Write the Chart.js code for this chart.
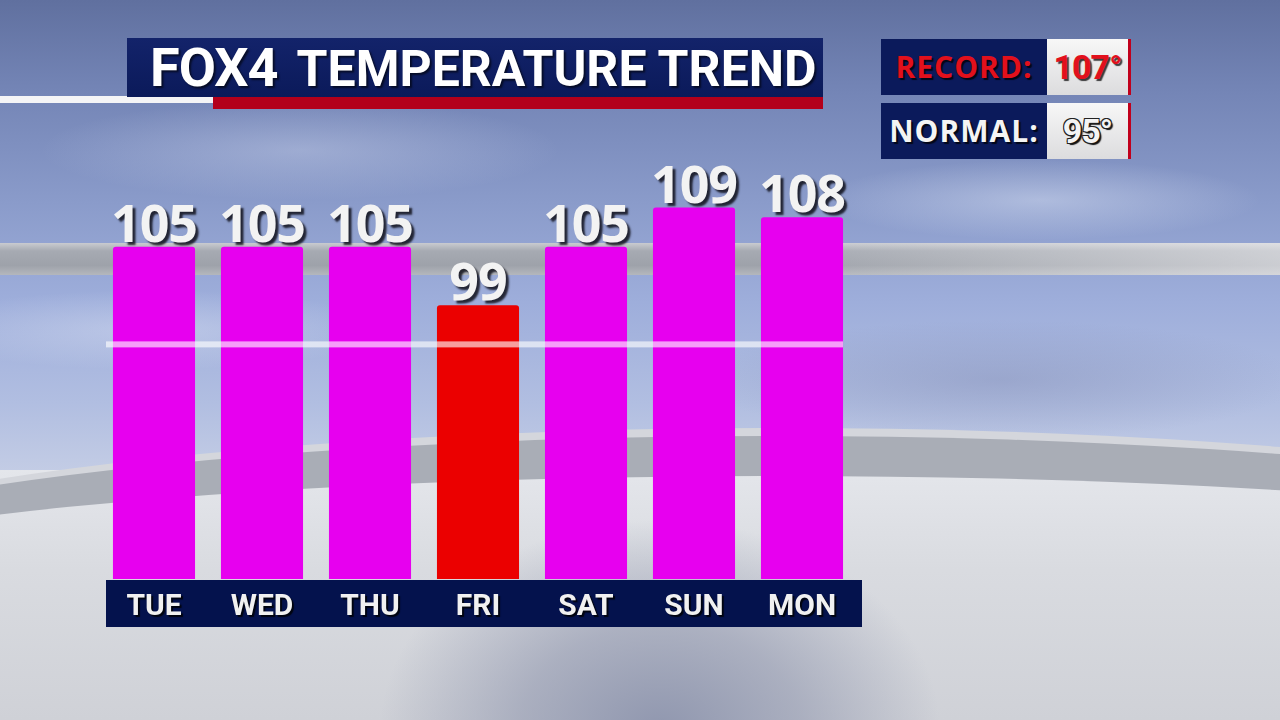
<!DOCTYPE html>
<html lang="en">
<head>
    <meta charset="UTF-8">
    <title>FOX4 Temperature Trend</title>
    <script src="https://cdn.jsdelivr.net/npm/chart.js"></script>
    <style>
        html, body {
            margin: 0;
            width: 1280px;
            height: 720px;
            overflow: hidden;
        }
        body {
            position: relative;
            background:
                radial-gradient(ellipse 220px 40px at 1040px 200px, rgba(220,228,245,0.45), rgba(220,228,245,0) 100%),
                radial-gradient(ellipse 260px 50px at 300px 150px, rgba(215,222,242,0.35), rgba(215,222,242,0) 100%),
                radial-gradient(ellipse 300px 60px at 1000px 380px, rgba(120,130,170,0.35), rgba(120,130,170,0) 100%),
                radial-gradient(ellipse 240px 40px at 150px 330px, rgba(225,230,245,0.4), rgba(225,230,245,0) 100%),
                linear-gradient(180deg, #60709f 0%, #7384b5 12%, #8a9bca 28%, #9eaedb 42%, #b1bee1 56%, #c4cde5 66%);
            font-family: Roboto, sans-serif;
        }
        .layer { position: absolute; }
        /* stadium ring + floor, decoration only */
        .ring-top {
            left: 0; top: 243px; width: 1280px; height: 32px;
            background:
                linear-gradient(90deg, rgba(255,255,255,0) 60%, rgba(240,240,242,0.55) 100%),
                linear-gradient(180deg, #c9cbd0 0%, #a6aab2 25%, #9ea2aa 70%, #b4b7bd 100%);
        }
        .floor {
            left: 0; top: 470px; width: 1280px; height: 250px;
            background:
                radial-gradient(ellipse 280px 210px at 660px 260px, #9097af 0%, rgba(150,156,178,0.65) 50%, rgba(200,203,212,0) 100%),
                linear-gradient(180deg, #e4e6eb 0%, #d9dbe0 40%, #cfd1d7 100%);
        }
        .ring-low {
            left: -340px; top: 432px; width: 2240px; height: 360px;
            border-radius: 50%;
            border-top: 44px solid #a9adb6;
            box-sizing: border-box;
        }
        .ring-low-hi {
            left: -340px; top: 428px; width: 2240px; height: 360px;
            border-radius: 50%;
            border-top: 8px solid #d4d6dc;
            box-sizing: border-box;
        }
        .axis-bar {
            left: 106px; top: 580px; width: 756px; height: 47px;
            background: #04124d;
        }
        .title-box {
            left: 127px; top: 38px; width: 696px; height: 59px;
            background: linear-gradient(180deg, #13236a 0%, #0b1a5a 100%);
        }
        .title-red {
            left: 213px; top: 97px; width: 610px; height: 12px;
            background: #b3001b;
        }
        .title-white {
            left: 0; top: 96px; width: 213px; height: 7px;
            background: #f4f4f6;
        }
        .title-text {
            left: 150px; top: 38px; height: 60px; line-height: 60px;
            color: #ffffff; font-weight: bold; font-size: 50px;
            white-space: nowrap;
            text-shadow: 2px 2px 2px rgba(0,0,0,0.6);
        }
        .title-text .logo { font-size: 54px; letter-spacing: -1px; margin-right: 19px; }
        .stat-label {
            left: 881px; width: 166px; height: 56px; line-height: 56px;
            background: #0b1a5b; text-align: center;
            font-family: 'Open Sans', sans-serif; font-weight: 700; font-size: 30px;
            letter-spacing: 1px; white-space: nowrap;
        }
        .stat-value {
            left: 1047px; width: 81px; height: 56px; line-height: 56px;
            background: linear-gradient(180deg, #f7f7f7 0%, #dcdcde 100%);
            border-right: 3px solid #c1001c;
            text-align: center; font-weight: bold; font-size: 34px;
            letter-spacing: -1px; white-space: nowrap;
        }
        .red-txt { color: #e2101c; text-shadow: 2px 2px 1px rgba(0,0,0,0.75); }
        .white-txt { color: #f4f4f4; text-shadow: 2px 2px 1px rgba(0,0,0,0.75); }
        .outlined { color: #f4f4f4; text-shadow: -1px -1px 0 #222, 1px -1px 0 #222, -1px 1px 0 #222, 2px 2px 1px #111; }
        canvas { position: absolute; left: 0; top: 0; z-index: 5; }
    </style>
</head>
<body>
    <div class="layer ring-top"></div>
    <div class="layer floor"></div>
    <div class="layer ring-low"></div>
    <div class="layer ring-low-hi"></div>
    <div class="layer axis-bar"></div>

    <div class="layer title-white"></div>
    <div class="layer title-box"></div>
    <div class="layer title-red"></div>
    <div class="layer title-text"><span class="logo">FOX4</span>TEMPERATURE TREND</div>

    <div class="layer stat-label red-txt" style="top:39px">RECORD:</div>
    <div class="layer stat-value red-txt" id="recordValue" style="top:39px"></div>
    <div class="layer stat-label white-txt" style="top:103px">NORMAL:</div>
    <div class="layer stat-value outlined" id="normalValue" style="top:103px"></div>

    <canvas id="trendChart" width="1280" height="720"></canvas>

    <script>
        // forecast highs
        const DAYS = ['TUE', 'WED', 'THU', 'FRI', 'SAT', 'SUN', 'MON'];
        const HIGHS = [105, 105, 105, 99, 105, 109, 108];
        const RECORD_HIGH = 107;
        const NORMAL_HIGH = 95;

        document.getElementById('recordValue').textContent = RECORD_HIGH + '°';
        document.getElementById('normalValue').textContent = NORMAL_HIGH + '°';

        // shadow under the day labels, switched off again before the bars
        const tickShadow = {
            id: 'tickShadow',
            beforeDraw(chart) {
                const ctx = chart.ctx;
                ctx.shadowColor = 'rgba(0,0,0,0.8)';
                ctx.shadowOffsetX = 2;
                ctx.shadowOffsetY = 2;
                ctx.shadowBlur = 1;
            },
            beforeDatasetsDraw(chart) {
                const ctx = chart.ctx;
                ctx.shadowColor = 'rgba(0,0,0,0)';
                ctx.shadowOffsetX = 0;
                ctx.shadowOffsetY = 0;
                ctx.shadowBlur = 0;
            }
        };

        // translucent normal-high line + numbers over the bars
        const overlays = {
            id: 'overlays',
            afterDatasetsDraw(chart) {
                const ctx = chart.ctx;
                const area = chart.chartArea;
                const y = chart.scales.y.getPixelForValue(NORMAL_HIGH);

                ctx.save();
                ctx.fillStyle = 'rgba(255,255,255,0.62)';
                ctx.fillRect(area.left + 6, y - 3, area.right - area.left - 19, 6);
                ctx.restore();

                const meta = chart.getDatasetMeta(0);
                ctx.save();
                ctx.font = "700 52px 'Open Sans', sans-serif";
                ctx.letterSpacing = '-1px';
                ctx.textAlign = 'center';
                ctx.textBaseline = 'alphabetic';
                ctx.fillStyle = '#f3f3f3';
                ctx.shadowColor = 'rgba(15,15,25,0.85)';
                ctx.shadowOffsetX = 3;
                ctx.shadowOffsetY = 3;
                ctx.shadowBlur = 2;
                meta.data.forEach((bar, i) => {
                    ctx.fillText(String(HIGHS[i]), bar.x, bar.y - 5);
                });
                ctx.restore();
            }
        };

        new Chart(document.getElementById('trendChart'), {
            type: 'bar',
            data: {
                labels: DAYS,
                datasets: [{
                    data: HIGHS,
                    backgroundColor: c => (c.raw >= 100 ? '#e700ef' : '#eb0000'),
                    barPercentage: 0.76,
                    categoryPercentage: 1,
                    borderRadius: 3,
                    borderSkipped: 'bottom'
                }]
            },
            options: {
                responsive: false,
                animation: false,
                layout: { padding: { left: 100, right: 424, top: 100, bottom: 85 } },
                plugins: {
                    legend: { display: false },
                    tooltip: { enabled: false }
                },
                scales: {
                    x: {
                        grid: { display: false, drawTicks: false },
                        border: { display: false },
                        ticks: {
                            color: '#f1f1f1',
                            font: { family: 'Roboto', size: 30, weight: 'bold', lineHeight: 1 },
                            padding: 13,
                            maxRotation: 0,
                            autoSkip: false
                        }
                    },
                    y: { display: false, min: 71, max: 120 }
                }
            },
            plugins: [tickShadow, overlays]
        });
    </script>
</body>
</html>
